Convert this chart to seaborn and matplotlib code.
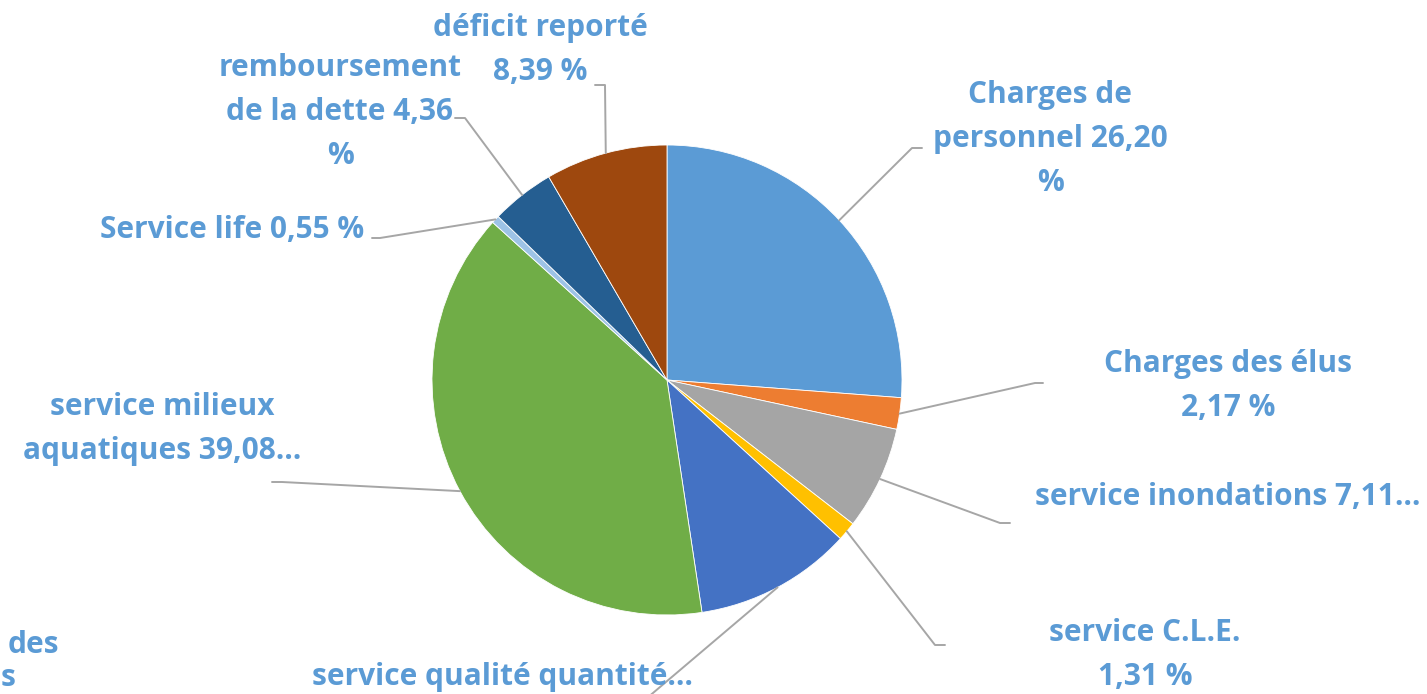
import numpy as np
import matplotlib
matplotlib.use("Agg")
import matplotlib.pyplot as plt
import seaborn as sns

categories = ["Charges de personnel", "Charges des élus", "service inondations",
              "service C.L.E.", "service qualité quantité", "service milieux aquatiques",
              "Service life", "remboursement de la dette", "déficit reporté"]
values = [26.20, 2.17, 7.11, 1.31, 10.83, 39.08, 0.55, 4.36, 8.39]
labels = ["Charges de\npersonnel 26,20\n%", "Charges des élus\n2,17 %",
          "service inondations 7,11…", "service C.L.E.\n1,31 %",
          "service qualité quantité…", "service milieux\naquatiques 39,08…",
          "Service life 0,55 %", "remboursement\nde la dette 4,36\n%",
          "déficit reporté\n8,39 %"]
colors = ["#5B9BD5", "#ED7D31", "#A5A5A5", "#FFC000", "#4472C4",
          "#70AD47", "#9DC3E6", "#255E91", "#9E480E"]

sns.set_theme(style="white")
plt.rcParams['font.family'] = ['Open Sans', 'DejaVu Sans']

W, H = 1427, 694
fig = plt.figure(figsize=(W / 100, H / 100), dpi=100)
ax = fig.add_axes([0, 0, 1, 1])

cx, cy, R = 667, H - 380, 235
wedges, _ = ax.pie(values, colors=colors, startangle=90, counterclock=False,
                   center=(cx, cy), radius=R, frame=True,
                   wedgeprops=dict(edgecolor='white', linewidth=0.6))
ax.set_xlim(0, W)
ax.set_ylim(0, H)
ax.set_aspect('equal')
ax.axis('off')

# label layout: text center (x, y img), elbow (x,y img), end (x,y img)
layout = [
    ((1050, 139), (912, 148), (922, 148)),
    ((1228, 386), (1035, 383), (1043, 383)),
    ((1228, 497), (1000, 523), (1010, 523)),
    ((1145, 655), (935, 645), (945, 645)),
    ((502, 677), (640, 704), (630, 704)),
    ((162, 429), (282, 482), (272, 482)),
    ((232, 230), (380, 238), (372, 238)),
    ((340, 112), (465, 118), (455, 118)),
    ((540, 50), (605, 85), (595, 85)),
]
txt_color = "#5B9BD5"
line_color = "#A6A6A6"
fs = 21.5
for w, lab, (tpos, elb, end) in zip(wedges, labels, layout):
    mid = np.deg2rad((w.theta1 + w.theta2) / 2)
    sx = cx + R * np.cos(mid)
    sy = cy + R * np.sin(mid)
    ax.plot([sx, elb[0], end[0]], [sy, H - elb[1], H - end[1]],
            color=line_color, lw=1.4, zorder=1, clip_on=False)
    ax.text(tpos[0], H - tpos[1], lab, ha='center', va='center', color=txt_color,
            fontsize=fs, fontweight='bold', linespacing=1.63, zorder=3)

# partially visible label at the bottom-left edge
ax.text(8, H - 645, "des", ha='left', va='center', color=txt_color,
        fontsize=fs, fontweight='bold')
ax.text(1, H - 678, "s", ha='left', va='center', color=txt_color,
        fontsize=fs, fontweight='bold')

fig.savefig("out.png", dpi=100, facecolor='white')
